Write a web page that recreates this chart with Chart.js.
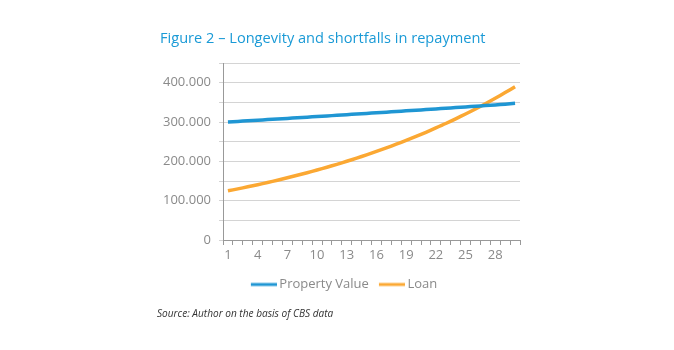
<!DOCTYPE html>
<html>
<head>
<meta charset="utf-8">
<script src="https://cdn.jsdelivr.net/npm/chart.js@4"></script>
<style>
	body { margin: 0; background: #fff; }
	#wrap { position: absolute; left: 0; top: 0; width: 674px; height: 350px; }
	#title { position: absolute; left: 160px; top: 27px; font: 14.6px "Open Sans", sans-serif; color: #1a9ad6; }
	#source { position: absolute; left: 157px; top: 306px; font: italic 10.1px "Open Sans", sans-serif; color: #333; }
</style>
</head>
<body>
<div id="wrap"><canvas id="chart" width="674" height="350"></canvas></div>
<div id="title">Figure 2 – Longevity and shortfalls in repayment</div>
<div id="source">Source: Author on the basis of CBS data</div>
<script>
var years = ['1', '2', '3', '4', '5', '6', '7', '8', '9', '10', '11', '12', '13', '14', '15',
	'16', '17', '18', '19', '20', '21', '22', '23', '24', '25', '26', '27', '28', '29', '30'];

var propertyValue = [300000, 301500, 303000, 304500, 306100, 307600, 309100, 310700, 312300, 313800,
	315400, 317000, 318600, 320200, 321800, 323400, 325000, 326700, 328300, 329900,
	331600, 333300, 334900, 336600, 338300, 340000, 341700, 343400, 345200, 347500];

var loan = [125000, 130000, 135200, 140600, 146200, 152100, 158200, 164500, 171100, 177900,
	185000, 192400, 200100, 208100, 216500, 225100, 234100, 243500, 253200, 263400,
	273900, 284900, 296200, 308100, 320400, 333200, 346600, 360400, 374800, 389800];

var gray = '#8a8a8a';
var blue = '#1f96d3';
var orange = '#fba833';

// thousands with a dot, like the original
var formatNumber = function (value) {
	return String(value).replace(/\B(?=(\d{3})+(?!\d))/g, '.');
};

// legend marker: a short line that runs right up to the label text
var legendLine = function (color) {
	var c = document.createElement('canvas');
	c.width = 30;
	c.height = 6;
	var ctx = c.getContext('2d');
	ctx.fillStyle = color;
	ctx.fillRect(4, 1.5, 26, 3);
	return c;
};

// the legend sits a bit right of the plot centre in the original
var shiftLegend = {
	id: 'shiftLegend',
	afterLayout: function (chart) {
		chart.legend.left += 14;
		chart.legend.right += 14;
	}
};

new Chart(document.getElementById('chart'), {
	type: 'line',
	data: {
		labels: years,
		datasets: [{
			label: 'Property Value',
			data: propertyValue,
			borderColor: blue,
			backgroundColor: blue,
			borderWidth: 3.5,
			pointRadius: 0,
			pointStyle: legendLine(blue),
			tension: 0.3
		}, {
			label: 'Loan',
			data: loan,
			borderColor: orange,
			backgroundColor: orange,
			borderWidth: 3.5,
			pointRadius: 0,
			pointStyle: legendLine(orange),
			tension: 0.3
		}]
	},
	plugins: [shiftLegend],
	options: {
		responsive: false,
		animation: false,
		layout: {
			padding: { left: 140, top: 63, right: 154, bottom: 49 }
		},
		plugins: {
			title: { display: false },
			tooltip: { enabled: false },
			legend: {
				position: 'bottom',
				labels: {
					usePointStyle: true,
					pointStyleWidth: 22,
					color: gray,
					padding: 10,
					font: { family: '"Open Sans", sans-serif', size: 13 }
				}
			}
		},
		scales: {
			x: {
				offset: true,
				afterFit: function (scale) { scale.height = 28; },
				grid: {
					offset: true,
					drawOnChartArea: false,
					color: '#999',
					tickLength: 5
				},
				border: { color: '#999' },
				ticks: {
					autoSkip: false,
					maxRotation: 0,
					color: gray,
					padding: 2,
					font: { family: '"Open Sans", sans-serif', size: 13 },
					callback: function (value, index) {
						return index % 3 === 0 ? years[index] : '';
					}
				}
			},
			y: {
				min: 0,
				max: 450000,
				afterFit: function (scale) { scale.width = 83; },
				grid: {
					color: '#d4d4d4',
					tickLength: 4,
					tickColor: '#d4d4d4'
				},
				border: { color: '#999' },
				ticks: {
					stepSize: 50000,
					color: gray,
					padding: 8,
					font: { family: '"Open Sans", sans-serif', size: 13 },
					callback: function (value) {
						return value % 100000 === 0 ? formatNumber(value) : '';
					}
				}
			}
		}
	}
});
</script>
</body>
</html>
